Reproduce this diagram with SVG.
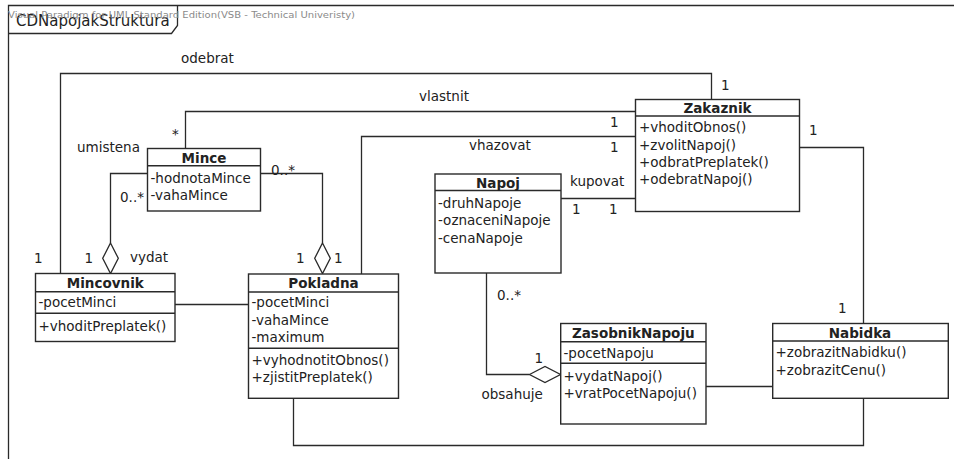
<svg xmlns="http://www.w3.org/2000/svg" width="954" height="459" viewBox="0 0 954 459">
  <style>
    text { font-family: "DejaVu Sans", "Liberation Sans", sans-serif; font-size: 13.5px; fill: #222; }
    .title { font-weight: bold; text-anchor: middle; }
    .box { fill: #fff; stroke: #2a2a2a; stroke-width: 1.4; }
    .sep { stroke: #2a2a2a; stroke-width: 1.4; fill: none; }
    .edge { fill: none; stroke: #2a2a2a; stroke-width: 1.3; }
    .diamond { fill: #fff; stroke: #2a2a2a; stroke-width: 1.3; }
    .frame { fill: none; stroke: #2a2a2a; stroke-width: 1.3; }
    .wm { font-size: 9.5px; fill: #8a8a8a; }
  </style>

  <rect x="0" y="0" width="954" height="459" fill="#fff"/>

  <!-- diagram frame -->
  <g id="frame">
    <path class="frame" d="M8.5,459 V5.5 H954"/>
    <path class="frame" d="M8.5,33.5 H171.5 L177.5,25.5 V5.5"/>
    <text x="16" y="26" style="font-size:15px">CDNapojakStruktura</text>
    <text class="wm" x="8" y="18" textLength="347" lengthAdjust="spacingAndGlyphs">Visual Paradigm for UML Standard Edition(VSB - Technical Univeristy)</text>
  </g>

  <!-- associations -->
  <g id="connectors">
    <path class="edge" d="M711.5,99.5 V73.5 H60.5 V273.5"/>
    <path class="edge" d="M635.5,111.5 H185.5 V148.5"/>
    <path class="edge" d="M635.5,136.5 H361.5 V274"/>
    <path class="edge" d="M561,198.5 H635.5"/>
    <path class="edge" d="M799,147.5 H863.5 V323.5"/>
    <path class="edge" d="M293.5,398.5 V445.5 H863.5 V398.5"/>
    <path class="edge" d="M175,304.5 H248.5"/>
    <path class="edge" d="M147.5,173.5 H110.5 V243"/>
    <path class="edge" d="M261,173.5 H322.5 V243"/>
    <path class="edge" d="M486.5,273 V374.5 H529.5"/>
    <path class="edge" d="M706,386.5 H772.5"/>
    <polygon class="diamond" points="110.5,243 118.3,258.3 110.5,273.5 102.7,258.3"/>
    <polygon class="diamond" points="322.5,243 330.3,258.3 322.5,273.5 314.7,258.3"/>
    <polygon class="diamond" points="529.5,374.5 545,366.5 560.5,374.5 545,382.5"/>

    <text x="181" y="63">odebrat</text>
    <text x="721" y="89.5">1</text>
    <text x="34" y="263">1</text>
    <text x="419" y="101">vlastnit</text>
    <text x="172" y="138.5">*</text>
    <text x="77" y="151.5">umistena</text>
    <text x="610" y="126.5">1</text>
    <text x="469" y="150">vhazovat</text>
    <text x="610" y="151.5">1</text>
    <text x="570" y="186">kupovat</text>
    <text x="572" y="214">1</text>
    <text x="609" y="214">1</text>
    <text x="809" y="135">1</text>
    <text x="838" y="313">1</text>
    <text x="120" y="201.5">0..*</text>
    <text x="84.5" y="262.5">1</text>
    <text x="130" y="262">vydat</text>
    <text x="271" y="175">0..*</text>
    <text x="296" y="262.5">1</text>
    <text x="334" y="262.5">1</text>
    <text x="497" y="300">0..*</text>
    <text x="534.5" y="362.5">1</text>
    <text x="481.5" y="399">obsahuje</text>
  </g>

  <g id="Zakaznik">
    <rect class="box" x="635.5" y="99.5" width="164" height="112"/>
    <line class="sep" x1="635.5" y1="116" x2="799.5" y2="116"/>
    <text class="title" x="717.5" y="112.5">Zakaznik</text>
    <text x="639" y="132">+vhoditObnos()</text>
    <text x="639" y="149.5">+zvolitNapoj()</text>
    <text x="639" y="166.5">+odbratPreplatek()</text>
    <text x="639" y="184">+odebratNapoj()</text>
  </g>

  <g id="Mince">
    <rect class="box" x="147.5" y="148.5" width="113" height="62.5"/>
    <line class="sep" x1="147.5" y1="165.7" x2="260.5" y2="165.7"/>
    <text class="title" x="204" y="162.5">Mince</text>
    <text x="150.5" y="182.5">-hodnotaMince</text>
    <text x="150.5" y="200">-vahaMince</text>
  </g>

  <g id="Napoj">
    <rect class="box" x="435" y="174" width="126" height="99"/>
    <line class="sep" x1="435" y1="190.5" x2="561" y2="190.5"/>
    <text class="title" x="498" y="187.5">Napoj</text>
    <text x="438" y="207.5">-druhNapoje</text>
    <text x="438" y="225">-oznaceniNapoje</text>
    <text x="438" y="242.5">-cenaNapoje</text>
  </g>

  <g id="Mincovnik">
    <rect class="box" x="35.5" y="273.5" width="139.5" height="68"/>
    <line class="sep" x1="35.5" y1="291.7" x2="175" y2="291.7"/>
    <line class="sep" x1="35.5" y1="313.3" x2="175" y2="313.3"/>
    <text class="title" x="105.3" y="287.5">Mincovnik</text>
    <text x="38.5" y="307">-pocetMinci</text>
    <text x="38.5" y="330.5">+vhoditPreplatek()</text>
  </g>

  <g id="Pokladna">
    <rect class="box" x="248.5" y="274" width="150" height="124.3"/>
    <line class="sep" x1="248.5" y1="292" x2="398.5" y2="292"/>
    <line class="sep" x1="248.5" y1="348.3" x2="398.5" y2="348.3"/>
    <text class="title" x="323.5" y="288">Pokladna</text>
    <text x="251.5" y="307">-pocetMinci</text>
    <text x="251.5" y="324.5">-vahaMince</text>
    <text x="251.5" y="342">-maximum</text>
    <text x="251.5" y="364.5">+vyhodnotitObnos()</text>
    <text x="251.5" y="382">+zjistitPreplatek()</text>
  </g>

  <g id="ZasobnikNapoju">
    <rect class="box" x="560.7" y="323.5" width="145.3" height="100.5"/>
    <line class="sep" x1="560.7" y1="341.7" x2="706" y2="341.7"/>
    <line class="sep" x1="560.7" y1="363.3" x2="706" y2="363.3"/>
    <text class="title" x="633.3" y="338">ZasobnikNapoju</text>
    <text x="563.5" y="357.5">-pocetNapoju</text>
    <text x="563.5" y="380.5">+vydatNapoj()</text>
    <text x="563.5" y="397.5">+vratPocetNapoju()</text>
  </g>

  <g id="Nabidka">
    <rect class="box" x="772.7" y="323.5" width="175.6" height="74.8"/>
    <line class="sep" x1="772.7" y1="341" x2="948.3" y2="341"/>
    <text class="title" x="860" y="337.5">Nabidka</text>
    <text x="775.5" y="357">+zobrazitNabidku()</text>
    <text x="775.5" y="375">+zobrazitCenu()</text>
  </g>
</svg>
